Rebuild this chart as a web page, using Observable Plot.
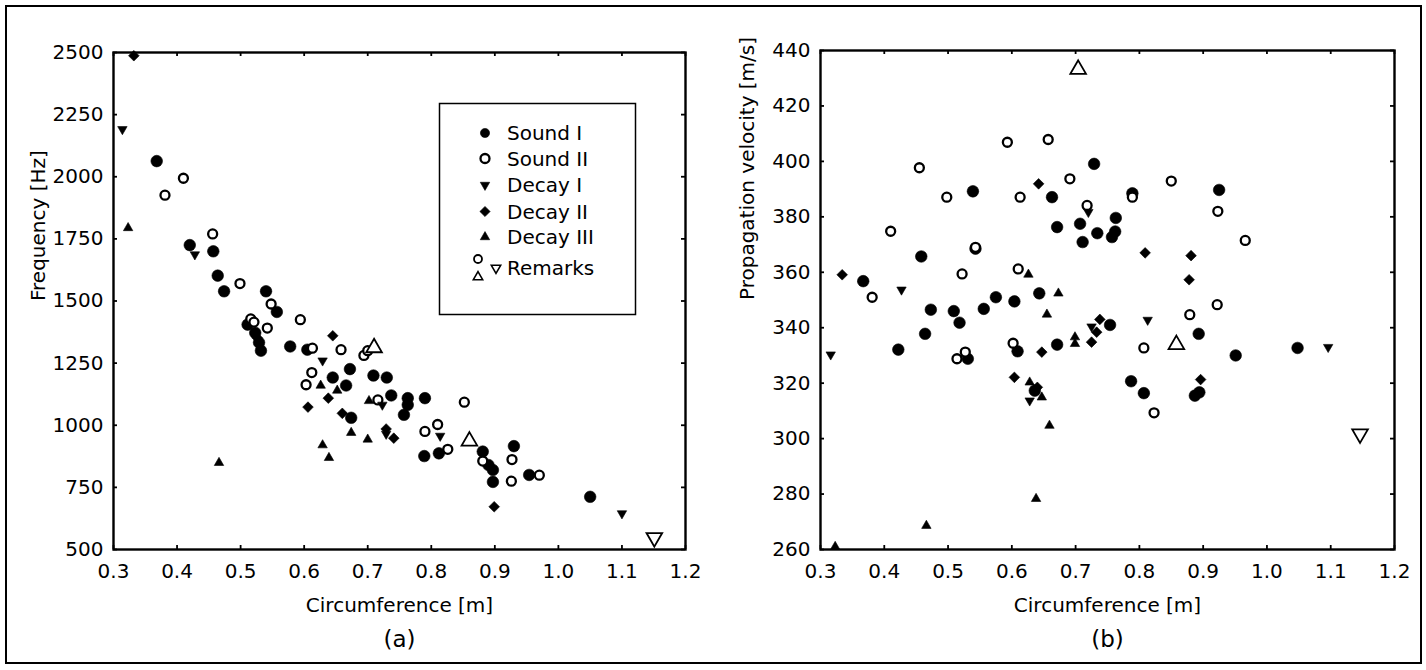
<!DOCTYPE html>
<html><head><meta charset="utf-8">
<script src="https://cdn.jsdelivr.net/npm/d3@7"></script>
<script src="https://cdn.jsdelivr.net/npm/@observablehq/plot@0.6"></script>
<style>
html,body{margin:0;padding:0;background:#fff;}
#page{position:relative;width:1426px;height:670px;overflow:hidden;font-family:"DejaVu Sans",sans-serif;}
#border{position:absolute;left:5px;top:5px;width:1413px;height:655px;border:2px solid #000;}
.panel{position:absolute;top:0;}
#legend{position:absolute;left:0;top:0;}
</style></head><body>
<div id="page"><div id="border"></div></div>
<script>
// ---------- tick labels / categories ----------
const xTicks = [0.3,0.4,0.5,0.6,0.7,0.8,0.9,1.0,1.1,1.2];
const freqTicks = [500,750,1000,1250,1500,1750,2000,2250,2500];
const velTicks = [260,280,300,320,340,360,380,400,420,440];
const seriesNames = ["Sound I","Sound II","Decay I","Decay II","Decay III","Remarks"];
const xTitle = "Circumference [m]";
const freqTitle = "Frequency [Hz]";
const velTitle = "Propagation velocity [m/s]";

// ---------- panel (a): [circumference m, frequency Hz] ----------
const freqSoundI = [[0.368,2063],[0.420,1725],[0.457,1700],[0.464,1602],[0.474,1539],[0.540,1539],[0.557,1456],
 [0.511,1405],[0.523,1372],[0.529,1333],[0.532,1300],[0.578,1317],[0.605,1304],[0.672,1226],
 [0.645,1192],[0.666,1160],[0.709,1200],[0.730,1192],[0.737,1120],[0.763,1109],[0.763,1082],
 [0.790,1109],[0.757,1042],[0.674,1030],[0.789,876],[0.812,887],[0.881,894],[0.890,840],
 [0.897,820],[0.897,772],[0.930,916],[0.954,800],[1.050,712]];
const freqSoundII = [[0.410,1994],[0.381,1926],[0.456,1770],[0.499,1570],[0.548,1488],[0.542,1391],[0.594,1425],
 [0.516,1428],[0.521,1415],[0.613,1310],[0.658,1304],[0.694,1281],[0.700,1300],[0.612,1212],[0.603,1163],
 [0.716,1102],[0.852,1093],[0.790,975],[0.810,1003],[0.826,903],[0.881,856],[0.927,862],
 [0.926,775],[0.970,799]];
const freqDecayI = [[0.314,2191],[0.428,1687],[0.629,1260],[0.723,1082],[0.729,965],[0.814,957],[1.100,645]];
const freqDecayII = [[0.332,2487],[0.526,1352],[0.645,1360],[0.638,1109],[0.606,1073],[0.660,1048],[0.729,985],[0.741,948],[0.899,672]];
const freqDecayIII = [[0.323,1794],[0.466,849],[0.629,920],[0.639,869],[0.674,970],[0.700,943],[0.702,1098],[0.626,1160],[0.652,1140]];
const freqRemarksUp = [[0.710,1312],[0.860,936]];
const freqRemarksDown = [[1.151,548]];

// ---------- panel (b): [circumference m, velocity m/s] ----------
const velSoundI = [[0.367,356.8],[0.422,332.1],[0.458,365.7],[0.464,337.8],[0.473,346.5],[0.509,346],[0.518,341.8],
 [0.531,328.8],[0.539,389.2],[0.543,368.5],[0.556,346.8],[0.575,351],[0.604,349.5],[0.609,331.5],
 [0.636,317.3],[0.643,352.4],[0.663,387.1],[0.671,376.3],[0.671,333.9],[0.707,377.5],[0.711,370.9],
 [0.729,399.1],[0.734,374.1],[0.754,341],[0.757,372.7],[0.762,374.7],[0.763,379.6],[0.787,320.7],
 [0.789,388.5],[0.807,316.4],[0.887,315.5],[0.894,316.7],[0.893,337.8],[0.925,389.7],[0.951,330],
 [1.048,332.7]];
const velSoundII = [[0.381,351],[0.410,374.8],[0.455,397.7],[0.498,387.1],[0.514,328.8],[0.522,359.4],[0.527,331.2],
 [0.543,369],[0.593,406.9],[0.602,334.4],[0.610,361.2],[0.613,387.1],[0.657,407.9],[0.691,393.7],
 [0.718,384.1],[0.789,387.1],[0.807,332.7],[0.823,309.3],[0.850,392.9],[0.879,344.7],[0.922,348.3],
 [0.923,382],[0.966,371.5]];
const velDecayI = [[0.316,330.3],[0.427,353.7],[0.628,313.7],[0.720,381.7],[0.725,340.4],[0.813,342.8],[1.096,333]];
const velDecayII = [[0.334,359.1],[0.604,322.1],[0.640,318.5],[0.642,391.9],[0.647,331.2],[0.725,334.8],[0.733,338.4],
 [0.738,343],[0.809,367],[0.878,357.3],[0.881,366],[0.896,321.3]];
const velDecayIII = [[0.323,261],[0.466,268.6],[0.626,359.2],[0.628,320.3],[0.638,278.3],[0.647,314.9],[0.655,344.8],
 [0.659,304.7],[0.673,352.4],[0.699,336.6],[0.699,334.2]];
const velRemarksUp = [[0.704,433.2],[0.858,333.9]];
const velRemarksDown = [[1.146,301.7]];

// ---------- symbols ----------
const sqrt3 = Math.sqrt(3);
const triangleDown = {draw(ctx, size){ const y = -Math.sqrt(size/(sqrt3*3)); ctx.moveTo(0,-y*2); ctx.lineTo(-sqrt3*y,y); ctx.lineTo(sqrt3*y,y); ctx.closePath(); }};
const styles = [
  {symbol:"circle", r:5.8, fill:"black", stroke:"black", strokeWidth:0.6},
  {symbol:"circle", r:4.5, fill:"white", stroke:"black", strokeWidth:2.3},
  {symbol:triangleDown, r:3.5, fill:"black", stroke:"black", strokeWidth:0.6},
  {symbol:"diamond2", r:4.8, fill:"black", stroke:"black", strokeWidth:0.6},
  {symbol:"triangle", r:3.5, fill:"black", stroke:"black", strokeWidth:0.6},
];
const remarkStyle = {r:5.8, fill:"white", stroke:"black", strokeWidth:1.8};

const W = 713, H = 670;
function panel(left, o) {
  const innerW = W - o.mLeft - o.mRight, innerH = H - o.mTop - o.mBottom;
  const marks = [];
  o.series.forEach((s, i) => marks.push(Plot.dot(s, {x:d=>d[0], y:d=>d[1], ...styles[i]})));
  marks.push(Plot.dot(o.remUp, {x:d=>d[0], y:d=>d[1], symbol:"triangle", ...remarkStyle}));
  marks.push(Plot.dot(o.remDown, {x:d=>d[0], y:d=>d[1], symbol:triangleDown, ...remarkStyle}));
  marks.push(
    Plot.tickX(xTicks, {x:d=>d, insetTop: innerH-4, strokeWidth:1.8}),
    Plot.tickX(xTicks, {x:d=>d, insetBottom: innerH-4, strokeWidth:1.8}),
    Plot.tickY(o.yTicks, {y:d=>d, insetRight: innerW-4, strokeWidth:1.8}),
    Plot.tickY(o.yTicks, {y:d=>d, insetLeft: innerW-4, strokeWidth:1.8}),
    Plot.frame({stroke:"black", strokeWidth:2.4}),
    Plot.axisX(xTicks, {tickSize:0, tickPadding:14, tickFormat:d3.format(".1f"), label:null, fontSize:20}),
    Plot.axisY(o.yTicks, {tickSize:0, tickPadding:10, tickFormat:d3.format("d"), label:null, fontSize:20}),
    Plot.text([xTitle], {text:d=>d, frameAnchor:"bottom", dy:56, lineAnchor:"middle", fontSize:20}),
    Plot.text([o.yTitle], {text:d=>d, frameAnchor:"left", dx:o.titleDx, rotate:-90, lineAnchor:"middle", fontSize:20}),
    Plot.text([o.caption], {text:d=>d, frameAnchor:"bottom", dy:90, lineAnchor:"middle", fontSize:23})
  );
  const svg = Plot.plot({
    width: W, height: H,
    marginLeft: o.mLeft, marginRight: o.mRight, marginTop: o.mTop, marginBottom: o.mBottom,
    x: {domain:[0.3,1.2]},
    y: {domain:o.yDomain},
    style: {fontFamily:"DejaVu Sans, sans-serif", fontSize:"20px", color:"black", background:"transparent"},
    marks
  });
  svg.classList.add("panel");
  svg.style.left = left + "px";
  document.getElementById("page").appendChild(svg);
}

panel(0, {mLeft:113, mRight:28, mTop:52, mBottom:121, yDomain:[500,2500], yTicks:freqTicks, yTitle:freqTitle, caption:"(a)", titleDx:-75,
  series:[freqSoundI,freqSoundII,freqDecayI,freqDecayII,freqDecayIII], remUp:freqRemarksUp, remDown:freqRemarksDown});
panel(713, {mLeft:107, mRight:32, mTop:50, mBottom:121, yDomain:[260,440], yTicks:velTicks, yTitle:velTitle, caption:"(b)", titleDx:-73,
  series:[velSoundI,velSoundII,velDecayI,velDecayII,velDecayIII], remUp:velRemarksUp, remDown:velRemarksDown});

// ---------- legend (panel a) ----------
const leg = d3.select("#page").append("svg").attr("id","legend").attr("width",1426).attr("height",670);
leg.append("rect").attr("x",439.5).attr("y",103.5).attr("width",196).attr("height",211)
  .attr("fill","white").attr("stroke","black").attr("stroke-width",1.5);
const rowY = [133,158.5,185,211.5,237,268];
const symFor = s => typeof s === "string" ? ({circle:d3.symbolCircle, triangle:d3.symbolTriangle, diamond2:d3.symbolDiamond2})[s] : s;
styles.forEach((st, i) => {
  leg.append("path").attr("transform",`translate(485,${rowY[i]})`)
    .attr("d", d3.symbol(symFor(st.symbol), Math.PI*Math.pow(Math.min(st.r,4.6),2))())
    .attr("fill", st.fill).attr("stroke", st.stroke).attr("stroke-width", st.strokeWidth||0);
});
leg.append("path").attr("transform","translate(478,259)").attr("d", d3.symbol(d3.symbolCircle, Math.PI*16)())
  .attr("fill","white").attr("stroke","black").attr("stroke-width",1.8);
leg.append("path").attr("transform","translate(478,277)").attr("d", d3.symbol(d3.symbolTriangle, Math.PI*12)())
  .attr("fill","white").attr("stroke","black").attr("stroke-width",1.6);
leg.append("path").attr("transform","translate(496,268)").attr("d", d3.symbol(triangleDown, Math.PI*12)())
  .attr("fill","white").attr("stroke","black").attr("stroke-width",1.6);
seriesNames.forEach((n, i) => {
  leg.append("text").attr("x",507).attr("y",rowY[i]).attr("dominant-baseline","central")
    .attr("font-family","DejaVu Sans, sans-serif").attr("font-size",20).attr("fill","black").text(n);
});
</script>
</body></html>
